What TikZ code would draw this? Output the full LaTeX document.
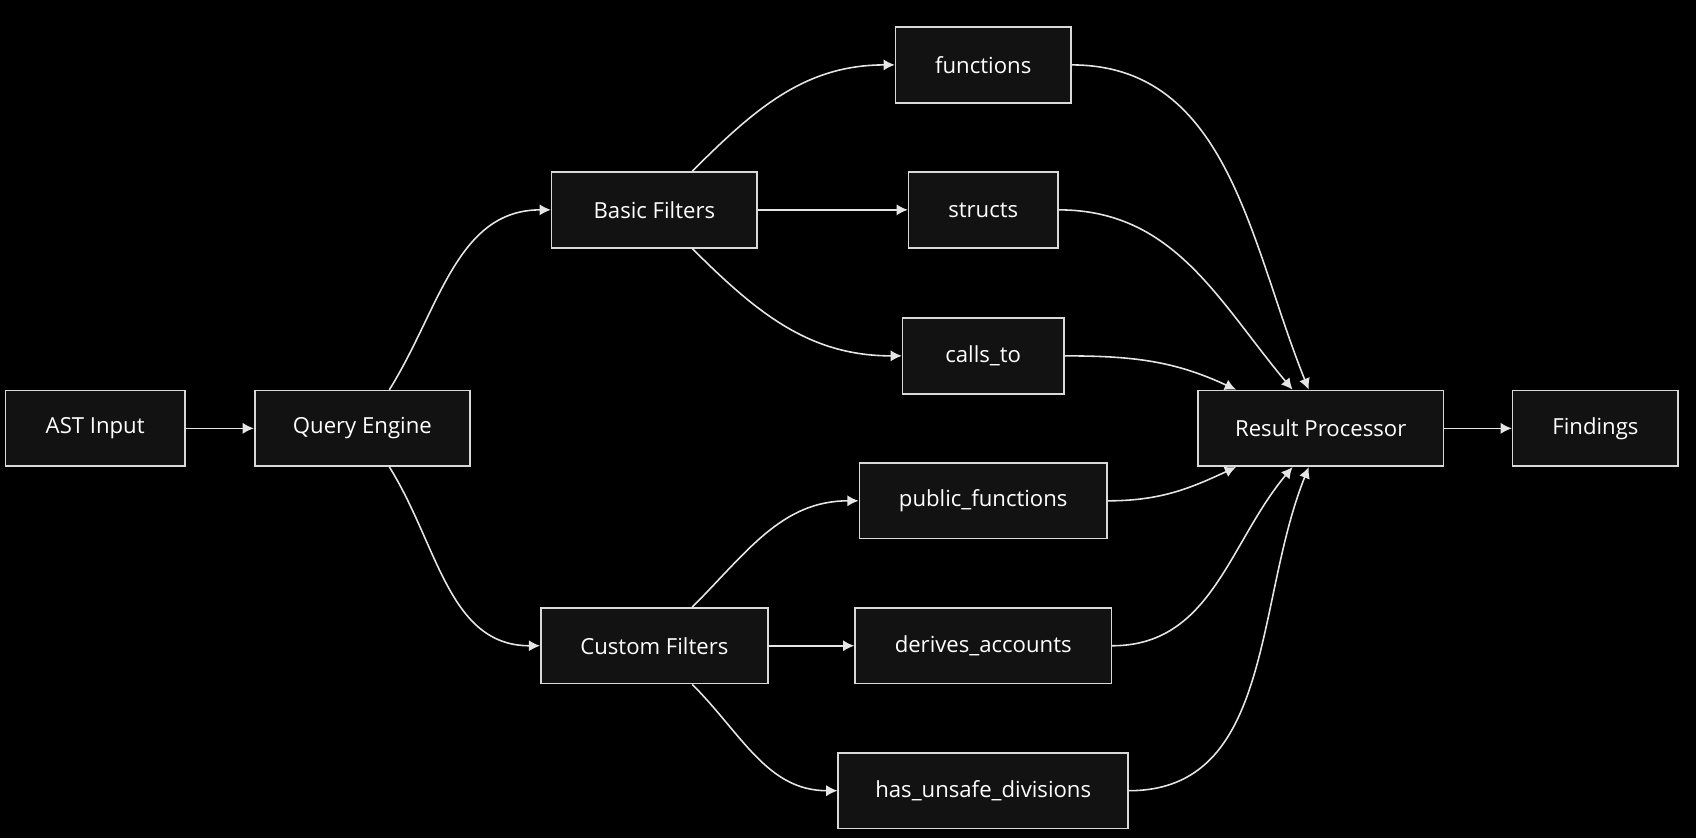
\documentclass[tikz,border=0pt]{standalone}
\usepackage{fontspec}
\setmainfont{Open Sans}
\usetikzlibrary{positioning, calc, arrows.meta}

\begin{document}
\begin{tikzpicture}[x=0.010816cm, y=-0.010816cm,
    box/.style={rectangle, draw=white!85!black, fill=black!93, line width=0.45pt, text=white,
      minimum height=70*0.010816cm, inner sep=0pt, font=\fontsize{6.3}{8}\selectfont},
    w/.style={minimum width=#1*0.010816cm},
    flow/.style={draw=white!90!black, line width=0.45pt, -{Latex[length=3.2pt,width=3.2pt]}}]
    \useasboundingbox[fill=black] (0,0) rectangle (1568,775);

    % Nodes
    \node (ast) [box, w=166] at (88,396) {AST Input};
    \node (query) [box, w=199] at (335,396) {Query Engine};
    \node (basic) [box, w=190] at (605,194) {Basic Filters};
    \node (custom) [box, w=210] at (605,597) {Custom Filters};
    \node (functions) [box, w=162] at (909,60) {functions};
    \node (structs) [box, w=138] at (909,194) {structs};
    \node (callsto) [box, w=149] at (909,329) {calls\_to};
    \node (public) [box, w=229] at (909,463) {public\_functions};
    \node (derives) [box, w=237] at (909,597) {derives\_accounts};
    \node (unsafe) [box, w=268] at (909,731) {has\_unsafe\_divisions};
    \node (result) [box, w=227] at (1221,396) {Result Processor};
    \node (findings) [box, w=153] at (1475,396) {Findings};

    % Flows
    \draw[flow] (ast) -- (query);
    \draw[flow] ($(query.north)+(25,0)$) to[out=58, in=180] (basic.west);
    \draw[flow] ($(query.south)+(25,0)$) to[out=-58, in=180] (custom.west);
    \draw[flow] ($(basic.north)+(35,0)$) to[out=45, in=180] (functions.west);
    \draw[flow] (basic) -- (structs);
    \draw[flow] ($(basic.south)+(35,0)$) to[out=-45, in=180] (callsto.west);
    \draw[flow] ($(custom.north)+(35,0)$) to[out=45, in=180] (public.west);
    \draw[flow] (custom) -- (derives);
    \draw[flow] ($(custom.south)+(35,0)$) to[out=-45, in=180] (unsafe.west);

    % Results
    \draw[flow] (functions.east) to[out=0, in=112] ($(result.north)+(-11,0)$);
    \draw[flow] (structs.east) to[out=0, in=130] ($(result.north)+(-26,0)$);
    \draw[flow] (callsto.east) to[out=0, in=155] ($(result.north west)+(36,0)$);
    \draw[flow] (public.east) to[out=0, in=-155] ($(result.south west)+(36,0)$);
    \draw[flow] (derives.east) to[out=0, in=-130] ($(result.south)+(-26,0)$);
    \draw[flow] (unsafe.east) to[out=0, in=-112] ($(result.south)+(-11,0)$);
    \draw[flow] (result) -- (findings);
\end{tikzpicture}
\end{document}
